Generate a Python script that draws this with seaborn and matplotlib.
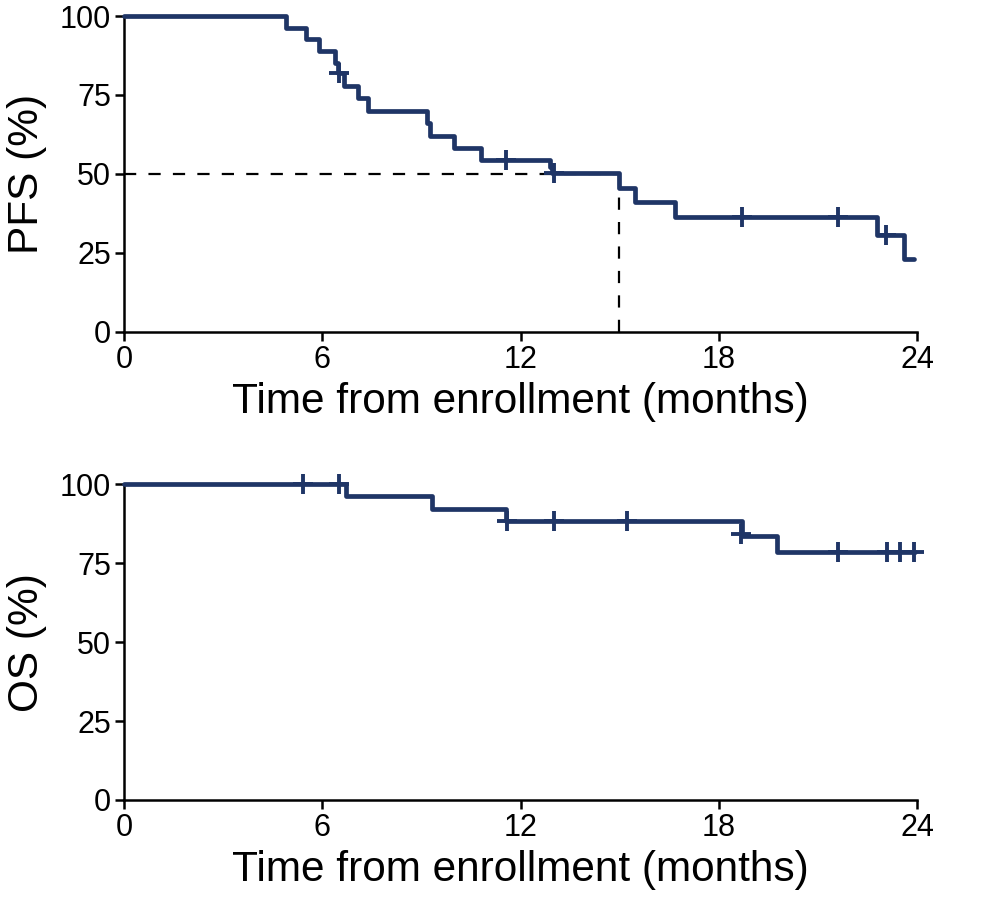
import numpy as np
import pandas as pd
import matplotlib
matplotlib.use("Agg")
import matplotlib.pyplot as plt
import seaborn as sns

# ---- data ----
pfs_time = [0, 4.9, 5.5, 5.9, 6.39, 6.47, 6.65, 7.08, 7.37, 9.17, 9.27, 9.98, 10.79, 12.88, 12.95, 14.98, 15.48, 16.68, 22.78, 23.6, 23.92]
pfs_surv = [100, 96.3, 92.6, 88.9, 85.2, 82.0, 77.8, 73.9, 70.0, 66.0, 62.0, 58.2, 54.3, 52.3, 50.3, 45.6, 41.0, 36.5, 30.5, 22.9, 22.9]
pfs_cens_time = [6.5, 11.57, 13.0, 18.69, 21.6, 23.06]
pfs_cens_surv = [82.0, 54.3, 50.3, 36.5, 36.5, 30.5]
pfs_median = 14.98

os_time = [0, 6.73, 9.32, 11.57, 18.7, 19.76, 23.95]
os_surv = [100, 96.2, 92.3, 88.4, 83.6, 78.7, 78.7]
os_cens_time = [5.41, 6.52, 11.6, 13.0, 15.21, 18.68, 21.6, 23.1, 23.5, 23.9]
os_cens_surv = [100, 100, 88.4, 88.4, 88.4, 84.4, 78.7, 78.7, 78.7, 78.7]

x_ticks = [0, 6, 12, 18, 24]
y_ticks = [0, 25, 50, 75, 100]
xlabel = "Time from enrollment (months)"
ylabels = ["PFS (%)", "OS (%)"]

sns.set_theme(style="ticks")
plt.rcParams['font.family'] = ['Liberation Sans', 'DejaVu Sans']
plt.rcParams['text.color'] = 'black'
plt.rcParams['axes.labelcolor'] = 'black'

color = "#1f3566"
fig = plt.figure(figsize=(9.89, 9.01), dpi=100)
ax1 = fig.add_axes([0.1254, 0.6318, 0.8018, 0.3504])
ax2 = fig.add_axes([0.1254, 0.1121, 0.8018, 0.3504])

panels = [
    (ax1, pfs_time, pfs_surv, pfs_cens_time, pfs_cens_surv, ylabels[0]),
    (ax2, os_time, os_surv, os_cens_time, os_cens_surv, ylabels[1]),
]
for ax, t, s, ct, cs, yl in panels:
    df = pd.DataFrame({"t": t, "s": s})
    sns.lineplot(data=df, x="t", y="s", ax=ax, color=color, lw=3.4,
                 drawstyle="steps-post", estimator=None, zorder=3, clip_on=False)
    cdf = pd.DataFrame({"t": ct, "s": cs})
    sns.scatterplot(data=cdf, x="t", y="s", ax=ax, marker="+", s=190,
                    color=color, linewidth=2.8, zorder=4, clip_on=False)
    ax.set_xlim(0, 24)
    ax.set_ylim(0, 100)
    ax.set_xticks(x_ticks)
    ax.set_yticks(y_ticks)
    ax.tick_params(axis="both", labelsize=22, width=1.8, length=6.5, direction="out", pad=3, colors="black")
    for sp in ["top", "right"]:
        ax.spines[sp].set_visible(False)
    for sp in ["left", "bottom"]:
        ax.spines[sp].set_linewidth(1.8)
        ax.spines[sp].set_color("black")
    ax.set_xlabel(xlabel, fontsize=30.5, labelpad=5)
    ax.set_ylabel(yl, fontsize=30.5, labelpad=9)

# median dashed lines
ax1.plot([0, pfs_median], [50, 50], ls=(0, (5.5, 5.5)), color="black", lw=1.6, zorder=2)
ax1.plot([pfs_median, pfs_median], [0, 50], ls=(0, (5.5, 5.5)), color="black", lw=1.6, zorder=2)

fig.savefig("out.png", dpi=100)
